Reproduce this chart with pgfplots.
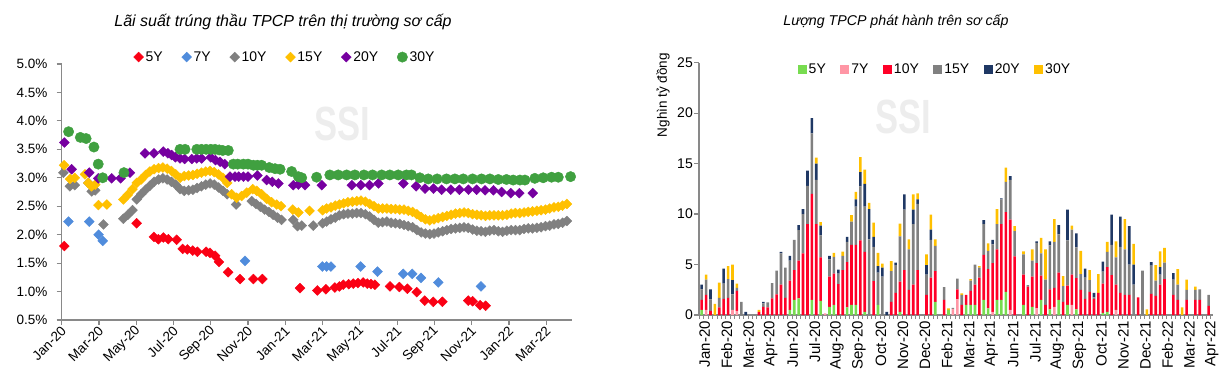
\documentclass[border=0pt]{standalone}
\usepackage{fontspec}
\setmainfont{Liberation Sans}
\usepackage{pgfplots}
\usepackage{pgfplotstable}
\pgfplotsset{compat=1.18}
\definecolor{axgray}{RGB}{137,137,137}
\definecolor{cRed}{RGB}{250,0,20}
\definecolor{cBlue}{RGB}{80,140,220}
\definecolor{cGray}{RGB}{128,128,128}
\definecolor{cGold}{RGB}{255,192,0}
\definecolor{cPurple}{RGB}{118,0,160}
\definecolor{cGreen}{RGB}{64,160,64}
\definecolor{b5}{RGB}{120,220,80}
\definecolor{b7}{RGB}{255,150,165}
\definecolor{b10}{RGB}{255,0,40}
\definecolor{b15}{RGB}{128,128,128}
\definecolor{b20}{RGB}{31,56,100}
\definecolor{b30}{RGB}{255,192,0}
\pgfplotstableread{
i g p r s n y
0 0.5 0 1.0 1.05 0.45 0
1 0 0.5 1.5 1.5 0 0.5
2 0 0 0.4 1.15 1.0 0
3 0 0 0 0 0 1.1
4 0 0 0.75 0.95 0 1.5
5 0 0 1.6 1.5 1.5 0
6 0 0 1.7 1.85 0 1.3
7 0 0.5 0 1.55 1.4 1.55
8 0 0.4 2.0 0.3 0 0.4
9 0 0 0 1.3 0 0
10 0 0 0 0 0.3 0
11 0 0 0 0 0 0
12 0 0 0 0 0 0
13 0 0 0.3 0 0 0.2
14 0 0 0.8 0.35 0.15 0
15 0 0 0.75 0.5 0 0
16 0 0 1.65 1.5 0 0
17 0 0 2.05 2.35 0 0
18 0 0 3.0 3.1 0.15 0
19 0 0 1.7 3.0 0 0
20 0.5 0 2.9 2.0 0.45 0
21 1.5 0 2.95 3.0 0 0
22 1.65 0 3.75 3.0 0.5 0
23 0 0 6.1 3.9 0.5 0
24 0 0 9.0 3.8 1.5 0
25 1.5 0 10.5 6.0 1.5 0
26 0 0 9.0 4.4 1.6 0.6
27 1.4 0 4.3 2.2 0.95 0.35
28 0 0.15 0 0 0 0
29 0.8 0 3.0 1.7 0.35 0
30 1.0 0 3.1 1.65 0 0.4
31 0 0 3.05 1.05 0.4 0
32 0 0 4.45 1.4 0 0.43
33 0.75 0 4.5 2.0 0.5 0
34 1.0 0 5.95 2.3 0 0.65
35 1.0 0 5.95 3.8 0.7 0.75
36 0 0 7.4 5.35 1.4 1.5
37 0.3 0 5.95 4.5 2.25 1.4
38 0 0 0 7.5 3.0 0.6
39 0 0 3.35 3.4 1.0 1.4
40 1.0 0 0 3.2 0.65 1.3
41 0 0 0 3.8 0.9 0.4
42 0 0 0 0 0.3 0
43 0 0 1.3 3.05 0 1.0
44 0 0 2.2 2.75 0.25 0
45 0.3 0 3.0 4.5 0 1.25
46 0 0 4.45 6.0 1.5 0
47 0 0 2.5 4.0 0 1.0
48 0 0 3.0 6.0 1.45 1.5
49 0 0 4.45 6.55 0.45 0.6
50 0 0 0 0 0 0
51 0 0 2.0 2.0 0.95 1.05
52 0 0 3.7 3.75 1.0 1.5
53 1.3 0 3.05 2.5 0 0.65
54 0 0 0 0 0 0
55 0 0 1.5 1.25 0 0
56 0.5 0 0 0 0 0.15
57 0 0.6 0 0.1 0 0
58 0 1.55 1.0 1.05 0 0
59 0 0 1.0 1.0 0 0.15
60 1.0 0 1.0 0 0 0
61 1.0 0 1.4 1.0 0 0.15
62 1.0 0 2.0 2.0 0 0
63 0 0 3.7 1.0 0 0.15
64 1.5 0 4.45 3.05 0.4 0
65 0.65 0 3.9 1.8 0 0.75
66 0 0.3 4.85 1.85 0.45 0
67 1.5 0 5.0 2.5 0 1.5
68 1.5 0 7.5 2.45 0.1 0
69 2.3 0 7.9 3.0 0 1.4
70 0 0.5 8.95 3.95 0.35 0
71 0 0 5.8 2.5 0 0.5
72 0 0 0 0 0 0
73 1.0 0 3.0 2.0 0 0.3
74 0 0 2.8 0.15 0 0
75 0.8 0 3.0 1.6 0 1.1
76 0 0.65 4.5 2.0 0.15 0
77 1.5 0 2.4 2.2 0 1.55
78 0 0 1.0 2.5 0 3.0
79 0.55 0 2.0 4.35 0.4 0
80 0 0.8 1.9 4.55 0 2.25
81 1.5 0 2.7 3.8 0.9 0
82 0 0 1.3 1.55 0 1.0
83 1.0 0 1.9 4.5 3.05 0
84 0 1.0 3.0 4.45 0 0.4
85 0.55 0 3.1 3.05 1.4 0
86 0 0 2.5 1.55 0 2.3
87 0 0 1.6 2.1 0.9 0
88 0 0 2.3 1.15 0 1.0
89 0 0 1.6 0.15 0.45 0
90 0 0 2.2 0 0 1.85
91 0.2 0 2.9 1.2 1.0 0
92 0.3 0 4.45 1.5 0 1.0
93 0 0 3.95 3.0 3.0 0
94 0 0.5 2.5 2.7 0 1.6
95 0 0 2.2 4.55 3.0 0
96 0 0 2.0 4.5 0 3.0
97 0 0 2.0 3.0 3.8 0
98 0 0 0 3.0 2.0 2.05
99 0 0 1.75 0 0 0
100 0 0 0 4.4 0 0
101 0 0 0 0 0 0.55
102 0 0 2.1 2.8 0.35 0
103 0 0 1.9 1.5 0 1.55
104 0 0 3.0 1.0 0.75 1.55
105 0 0 3.55 1.65 0 1.45
106 0 0 0 0 0 0
107 0 0 2.0 1.5 0.65 0
108 0 0 1.5 1.5 0 1.55
109 0 0 0 0 0 0.75
110 0 0 1.5 1.0 0 1.0
111 0 0 0 0 0 0
112 0 0 1.5 1.0 0 0.3
113 0 0 1.5 1.05 0 0
114 0 0 0 0 0 0
115 0 0 0.9 1.1 0 0
}\bardata
\begin{document}
\begin{tikzpicture}
\useasboundingbox (0pt,0pt) rectangle (1232pt,386pt);
% watermarks
\node[font=\bfseries\fontsize{48}{48}\selectfont, text=black!7, xscale=0.72] at (342pt,262pt) {SSI};
\node[font=\bfseries\fontsize{48}{48}\selectfont, text=black!7, xscale=0.72] at (903pt,269pt) {SSI};
% titles
\node[font=\itshape\fontsize{16}{17}\selectfont] at (283pt,364pt) {Lãi suất trúng thầu TPCP trên thị trường sơ cấp};
\node[font=\itshape\fontsize{14.2}{15}\selectfont] at (896pt,364pt) {Lượng TPCP phát hành trên sơ cấp};
\node[rotate=90, font=\fontsize{13.5}{14}\selectfont] at (663pt,291pt) {Nghìn tỷ đồng};
% ---------------- left chart
\begin{axis}[
  at={(61.7pt,66pt)}, anchor=south west, scale only axis,
  width=510pt, height=256pt,
  xmin=0, xmax=27.37, ymin=0.5, ymax=5,
  axis lines*=left,
  axis line style={draw=axgray, line width=1.5pt},
  tick style={draw=axgray, line width=1.2pt},
  tick align=outside, major tick length=5pt,
  xtick={0,2,...,26},
  xticklabels={Jan-20,Mar-20,May-20,Jul-20,Sep-20,Nov-20,Jan-21,Mar-21,May-21,Jul-21,Sep-21,Nov-21,Jan-22,Mar-22},
  xticklabel style={rotate=45, anchor=east, font=\fontsize{13.5}{14}\selectfont, inner sep=1pt, yshift=-4pt},
  ytick={0.5,1,1.5,2,2.5,3,3.5,4,4.5,5},
  yticklabels={0.5\%,1.0\%,1.5\%,2.0\%,2.5\%,3.0\%,3.5\%,4.0\%,4.5\%,5.0\%},
  yticklabel style={font=\fontsize{13.5}{14}\selectfont, inner sep=1pt, xshift=-8pt},
  clip=false,
  legend columns=6,
  legend style={at={(0.438,1.027)}, anchor=center, draw=none, fill=none,
    font=\fontsize{14}{14}\selectfont, inner sep=0pt,
    /tikz/every even column/.append style={column sep=17pt}},
  legend image code/.code={\draw[mark repeat=2,mark phase=2,#1] plot coordinates {(0pt,0pt)(5pt,0pt)(10pt,0pt)};},
]
\addplot[only marks, mark=square*, mark size=3.5pt, mark options={rotate=45, fill=cRed, draw=cRed}] coordinates {
(0.14,1.80)(4.02,2.20)(4.95,1.96)(5.19,1.92)(5.46,1.95)(5.72,1.92)(6.17,1.91)(6.49,1.75)(6.74,1.74)(7.03,1.72)(7.28,1.70)(7.75,1.70)(7.96,1.68)(8.23,1.63)(8.44,1.52)(8.93,1.34)(9.57,1.22)(10.29,1.22)(10.77,1.22)(12.79,1.06)(13.72,1.02)(14.18,1.04)(14.66,1.07)(14.9,1.09)(15.11,1.12)(15.4,1.13)(15.65,1.14)(15.9,1.15)(16.18,1.16)(16.4,1.14)(16.6,1.13)(16.81,1.12)(17.62,1.09)(18.12,1.08)(18.55,1.05)(19.05,0.99)(19.48,0.84)(19.94,0.82)(20.43,0.82)(21.82,0.84)(22.05,0.83)(22.45,0.76)(22.75,0.75)};
\addlegendentry{5Y}
\addplot[only marks, mark=square*, mark size=3.5pt, mark options={rotate=45, fill=cBlue, draw=cBlue}] coordinates {
(0.36,2.23)(1.48,2.23)(1.98,2.0)(2.2,1.89)(9.84,1.54)(13.99,1.44)(14.22,1.44)(14.45,1.44)(16.04,1.44)(16.95,1.35)(18.33,1.31)(18.81,1.31)(19.28,1.24)(20.21,1.16)(22.5,1.09)};
\addlegendentry{7Y}
\addplot[only marks, mark=square*, mark size=3.5pt, mark options={rotate=45, fill=cGray, draw=cGray}] coordinates {
(0.09,3.09)(0.44,2.85)(0.7,2.87)(1.43,2.91)(1.61,2.76)(1.8,2.78)(2.24,2.18)
(3.31,2.28)(3.55,2.35)(3.8,2.43)(4.03,2.62)(4.26,2.71)(4.5,2.79)(4.73,2.86)(4.96,2.93)(5.2,2.97)(5.43,2.99)(5.66,2.97)(5.89,2.93)(6.12,2.88)(6.35,2.80)(6.58,2.77)(6.81,2.78)(7.04,2.79)(7.27,2.82)(7.5,2.85)(7.73,2.88)(7.96,2.90)(8.19,2.88)(8.42,2.83)(8.65,2.77)(8.88,2.71)(9.36,2.53)
(10.2,2.59)(10.43,2.54)(10.66,2.49)(10.89,2.44)(11.12,2.40)(11.35,2.35)(11.58,2.30)(11.8,2.26)(12.43,2.26)(12.65,2.15)(12.88,2.16)(13.5,2.16)
(14.0,2.2)(14.22,2.23)(14.45,2.27)(14.68,2.30)(14.9,2.34)(15.13,2.36)(15.36,2.37)(15.6,2.37)(15.83,2.38)(16.06,2.38)(16.3,2.36)(16.53,2.32)(16.76,2.26)(16.99,2.21)(17.22,2.22)(17.45,2.23)(17.68,2.21)(17.91,2.20)(18.14,2.19)(18.37,2.17)(18.6,2.15)(18.83,2.13)(19.06,2.08)(19.29,2.04)(19.52,2.02)(19.75,2.01)(19.98,2.02)(20.21,2.04)(20.44,2.06)(20.67,2.08)(20.9,2.10)(21.13,2.11)(21.36,2.12)(21.59,2.13)(21.82,2.12)(22.05,2.09)(22.28,2.07)(22.51,2.06)(22.74,2.05)(22.97,2.07)(23.2,2.08)(23.43,2.06)(23.66,2.05)(23.89,2.07)(24.12,2.08)(24.35,2.08)(24.58,2.08)(24.81,2.10)(25.04,2.11)(25.27,2.11)(25.5,2.12)(25.73,2.13)(25.96,2.15)(26.19,2.16)(26.42,2.18)(26.65,2.19)(26.88,2.21)(27.11,2.24)};
\addlegendentry{10Y}
\addplot[only marks, mark=square*, mark size=3.5pt, mark options={rotate=45, fill=cGold, draw=cGold}] coordinates {
(0.13,3.22)(0.45,2.98)(0.7,3.0)(1.25,3.06)(1.43,2.91)(1.6,2.85)(1.8,2.88)(1.97,2.52)(2.42,2.53)
(3.31,2.62)(3.55,2.70)(3.8,2.80)(4.03,2.91)(4.26,2.97)(4.5,3.05)(4.73,3.11)(4.96,3.15)(5.2,3.17)(5.43,3.18)(5.66,3.16)(5.89,3.12)(6.12,3.06)(6.35,3.00)(6.58,3.03)(6.81,3.04)(7.04,3.05)(7.27,3.07)(7.5,3.09)(7.73,3.11)(7.96,3.12)(8.19,3.10)(8.42,3.06)(8.65,3.00)(8.88,2.91)(9.12,2.71)(9.39,2.65)(9.66,2.68)(9.93,2.74)(10.25,2.80)(10.47,2.77)(10.73,2.71)(11.0,2.63)(11.27,2.57)(11.54,2.53)(11.77,2.50)(12.4,2.44)(12.7,2.39)(13.3,2.42)
(14.0,2.43)(14.22,2.46)(14.45,2.48)(14.68,2.51)(14.9,2.53)(15.13,2.55)(15.36,2.57)(15.6,2.58)(15.83,2.59)(16.06,2.60)(16.3,2.58)(16.53,2.54)(16.76,2.50)(16.99,2.46)(17.22,2.46)(17.45,2.46)(17.68,2.45)(17.91,2.45)(18.14,2.44)(18.37,2.44)(18.6,2.42)(18.83,2.40)(19.06,2.36)(19.29,2.31)(19.52,2.27)(19.75,2.25)(19.98,2.27)(20.21,2.29)(20.44,2.31)(20.67,2.33)(20.9,2.35)(21.13,2.37)(21.36,2.38)(21.59,2.39)(21.82,2.38)(22.05,2.36)(22.28,2.35)(22.51,2.34)(22.74,2.33)(22.97,2.34)(23.2,2.34)(23.43,2.34)(23.66,2.34)(23.89,2.35)(24.12,2.37)(24.35,2.38)(24.58,2.38)(24.81,2.39)(25.04,2.40)(25.27,2.41)(25.5,2.42)(25.73,2.43)(25.96,2.44)(26.19,2.46)(26.42,2.48)(26.65,2.49)(26.88,2.51)(27.11,2.54)};
\addlegendentry{15Y}
\addplot[only marks, mark=square*, mark size=3.5pt, mark options={rotate=45, fill=cPurple, draw=cPurple}] coordinates {
(0.14,3.62)(0.53,3.15)(1.48,3.09)(1.96,2.99)(2.68,2.99)(3.16,2.99)(3.66,3.09)(4.47,3.43)(4.95,3.43)(5.45,3.46)(5.7,3.43)(5.9,3.40)(6.1,3.36)(6.35,3.34)(6.6,3.33)(6.98,3.33)(7.25,3.34)(7.51,3.34)(8.0,3.36)(8.25,3.31)(8.5,3.28)(8.75,3.24)(9.03,3.02)(9.3,3.02)(9.5,3.02)(9.75,3.02)(10.0,3.02)(10.5,3.04)(11.0,2.96)(11.3,2.93)(11.63,2.90)(12.43,2.87)(12.7,2.88)(13.06,2.87)(13.96,2.87)(15.57,2.87)(16.05,2.87)(16.52,2.87)(17.0,2.90)(18.34,2.90)(19.02,2.85)(19.5,2.81)(19.95,2.81)(20.39,2.79)(20.88,2.79)(21.34,2.79)(21.83,2.79)(22.27,2.79)(22.72,2.78)(23.17,2.78)(23.61,2.75)(24.1,2.73)(24.56,2.73)(25.28,2.73)};
\addlegendentry{20Y}
\addplot[only marks, mark=*, mark size=5.2pt, mark options={fill=cGreen, draw=cGreen}] coordinates {
(0.37,3.81)(1.0,3.71)(1.31,3.69)(1.73,3.54)(1.96,3.24)(2.2,3.00)(3.34,3.09)(6.35,3.50)(6.62,3.50)(7.25,3.50)(7.5,3.50)(7.75,3.50)(8.0,3.50)(8.23,3.50)(8.45,3.49)(8.64,3.48)(8.94,3.48)(9.21,3.24)(9.45,3.24)(9.75,3.24)(10.0,3.24)(10.29,3.22)(10.5,3.22)(10.73,3.22)(11.14,3.18)(11.45,3.16)(11.72,3.15)(12.34,3.11)(12.7,3.02)(12.88,3.00)(13.68,3.01)(14.39,3.05)(14.84,3.05)(15.29,3.05)(15.73,3.05)(16.22,3.05)(16.68,3.05)(17.17,3.05)(17.61,3.05)(18.06,3.05)(18.5,3.05)(18.77,3.05)(19.22,3.00)(19.67,2.98)(20.15,2.98)(20.65,2.98)(21.1,2.98)(21.55,2.98)(22.05,2.98)(22.53,2.98)(22.98,2.98)(23.43,2.97)(23.87,2.97)(24.23,2.96)(24.59,2.96)(24.86,2.96)(25.39,2.99)(25.84,3.00)(26.29,3.01)(26.65,3.01)(27.31,3.02)};
\addlegendentry{30Y}
\end{axis}
% ---------------- right chart
\begin{axis}[
  at={(699pt,71pt)}, anchor=south west, scale only axis,
  width=514pt, height=252.3pt,
  ybar stacked, bar width=2.6pt,
  xmin=-0.6, xmax=116, ymin=0, ymax=25,
  axis lines*=left,
  axis line style={draw=axgray, line width=1.8pt},
  tick align=outside,
  ytick={0,5,10,15,20,25}, yticklabels={0,5,10,15,20,25},
  ytick style={draw=axgray, line width=1.2pt}, major tick length=5pt,
  yticklabel style={font=\fontsize{14}{14}\selectfont, inner sep=1pt},
  xtick={0,5,...,115},
  xticklabels={Jan-20,Feb-20,Mar-20,Apr-20,Jun-20,Jul-20,Aug-20,Sep-20,Oct-20,Nov-20,Dec-20,Feb-21,Mar-21,Apr-21,Jun-21,Jul-21,Aug-21,Sep-21,Oct-21,Nov-21,Dec-21,Feb-22,Mar-22,Apr-22},
  major x tick style={draw=none},
  minor xtick={-0.5,0.5,...,115.5},
  minor x tick style={draw=axgray, line width=0.8pt},
  minor tick length=4pt,
  xticklabel style={rotate=90, anchor=east, font=\fontsize{15}{15}\selectfont, inner sep=1pt, yshift=-3pt},
  legend columns=6,
  legend style={at={(0.459,0.975)}, anchor=center, draw=none, fill=none,
    font=\fontsize{14}{14}\selectfont, inner sep=0pt,
    /tikz/every even column/.append style={column sep=12.5pt}},
  legend image code/.code={\fill[#1] (0pt,-4.5pt) rectangle (9pt,4.5pt);},
]
\addplot[fill=b5, draw=none] table[x=i, y=g] {\bardata};
\addlegendentry{5Y}
\addplot[fill=b7, draw=none] table[x=i, y=p] {\bardata};
\addlegendentry{7Y}
\addplot[fill=b10, draw=none] table[x=i, y=r] {\bardata};
\addlegendentry{10Y}
\addplot[fill=b15, draw=none] table[x=i, y=s] {\bardata};
\addlegendentry{15Y}
\addplot[fill=b20, draw=none] table[x=i, y=n] {\bardata};
\addlegendentry{20Y}
\addplot[fill=b30, draw=none] table[x=i, y=y] {\bardata};
\addlegendentry{30Y}
\end{axis}
\end{tikzpicture}
\end{document}
